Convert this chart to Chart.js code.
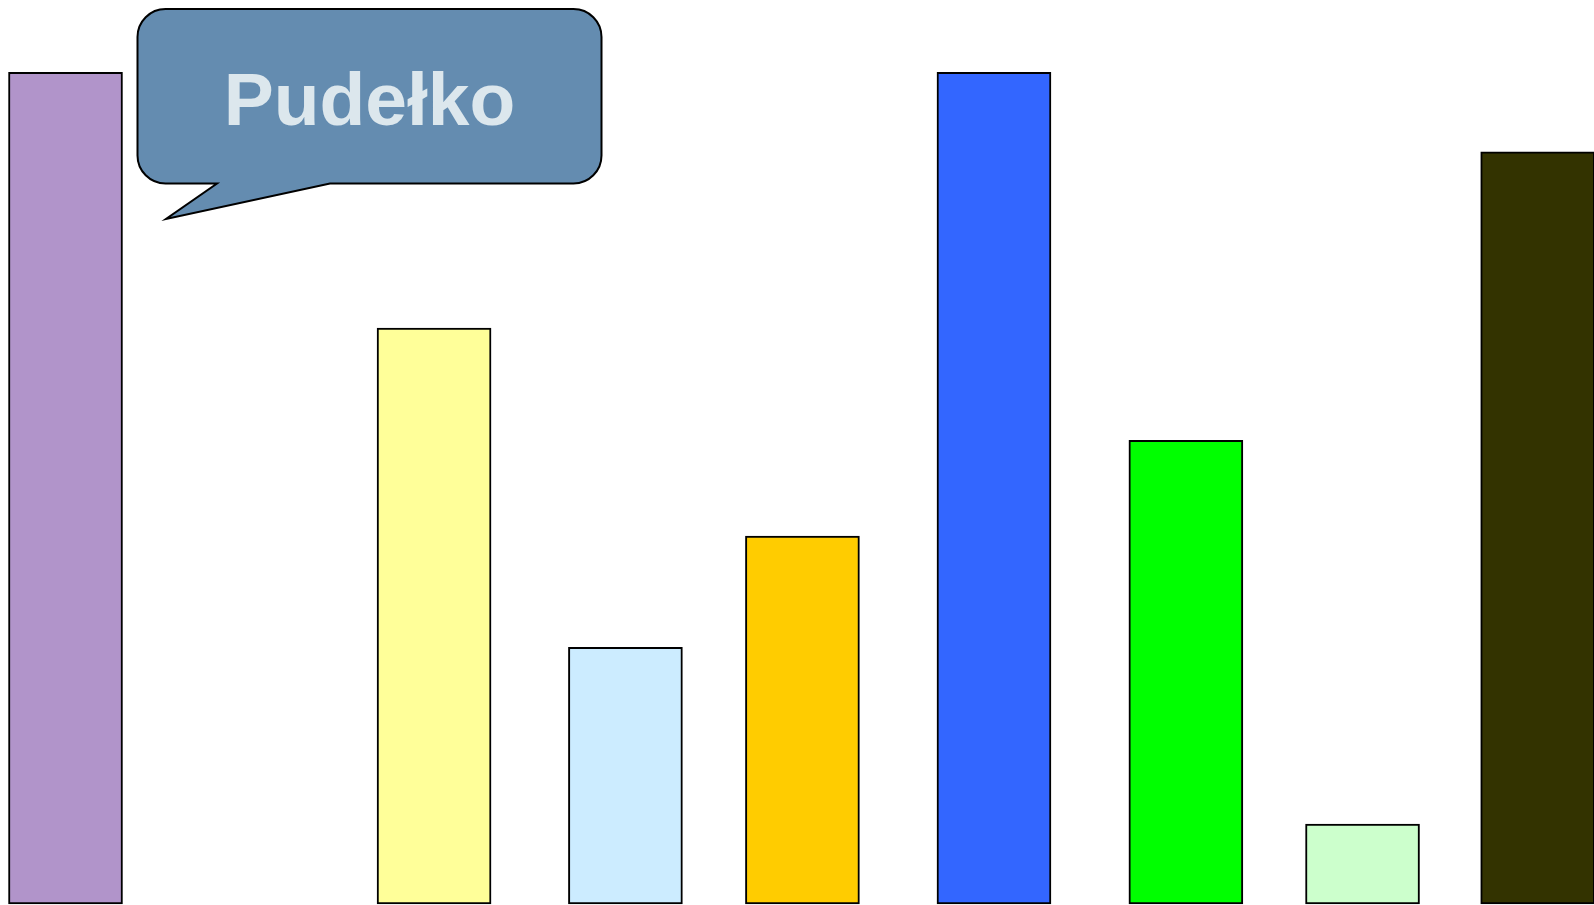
<!DOCTYPE html>
<html>
<head>
<meta charset="utf-8">
<script src="https://cdn.jsdelivr.net/npm/chart.js@4/dist/chart.umd.min.js"></script>
<style>
  html, body { margin: 0; padding: 0; background: #ffffff; overflow: hidden; }
  #wrap { position: relative; width: 1594px; height: 905px; }
</style>
</head>
<body>
<div id="wrap"><canvas id="c"></canvas></div>
<script>
// ---- data ----
const categories = ['1', '3', '4', '5', '6', '7', '8', '9'];
const xValues = [0, 2.003, 3.043, 4.005, 5.046, 6.089, 7.049, 8.001];
const values = [92.0, 63.7, 28.4, 40.7, 92.0, 51.3, 8.85, 83.2];
const barColors = ['#B194CA', '#FFFF99', '#CCECFF', '#FFCC00', '#3366FF', '#00FF00', '#CCFFCC', '#333300'];
const calloutText = 'Pudełko';

const points = xValues.map((x, i) => ({ x: x, y: values[i] }));

// ---- callout plugin ----
const calloutPlugin = {
  id: 'callout',
  afterDraw(chart) {
    const ctx = chart.ctx;
    const L = 137.5, T = 9, R = 601.5, B = 183.5, r = 28;
    const tailA = 217, tailB = 330, tipX = 166, tipY = 219;
    ctx.save();
    ctx.beginPath();
    ctx.moveTo(L + r, T);
    ctx.lineTo(R - r, T);
    ctx.arcTo(R, T, R, T + r, r);
    ctx.lineTo(R, B - r);
    ctx.arcTo(R, B, R - r, B, r);
    ctx.lineTo(tailB, B);
    ctx.lineTo(tipX, tipY);
    ctx.lineTo(tailA, B);
    ctx.lineTo(L + r, B);
    ctx.arcTo(L, B, L, B - r, r);
    ctx.lineTo(L, T + r);
    ctx.arcTo(L, T, L + r, T, r);
    ctx.closePath();
    ctx.fillStyle = '#648CB0';
    ctx.fill();
    ctx.lineWidth = 2;
    ctx.strokeStyle = '#000000';
    ctx.lineJoin = 'miter';
    ctx.stroke();
    ctx.fillStyle = '#DCE7ED';
    ctx.font = 'bold 75px "Liberation Sans", Arial, sans-serif';
    ctx.textAlign = 'center';
    ctx.textBaseline = 'alphabetic';
    ctx.fillText(calloutText, (L + R) / 2, 125);
    ctx.restore();
  }
};

new Chart(document.getElementById('c'), {
  type: 'bar',
  data: {
    labels: categories,
    datasets: [{
      data: points,
      backgroundColor: barColors,
      borderColor: '#000000',
      borderWidth: 2,
      borderSkipped: false,
      barThickness: 114,
      clip: false
    }]
  },
  options: {
    responsive: true,
    maintainAspectRatio: false,
    animation: false,
    layout: { padding: { left: 0, right: 0, top: 0, bottom: 1 } },
    plugins: { legend: { display: false }, tooltip: { enabled: false } },
    scales: {
      x: { type: 'linear', min: -0.356, max: 8.307, offset: false, display: false, grid: { display: false } },
      y: { min: 0, max: 100, display: false, grid: { display: false } }
    }
  },
  plugins: [calloutPlugin]
});
</script>
</body>
</html>
